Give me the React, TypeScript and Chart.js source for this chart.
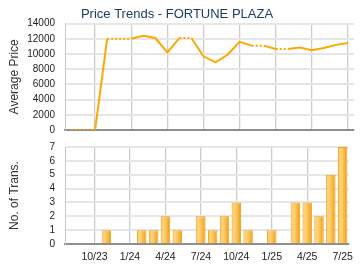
import React, { useEffect, useRef } from "react";
import { Chart, registerables } from "chart.js";

Chart.register(...registerables);

const months = [
  "8/23", "9/23", "10/23", "11/23", "12/23", "1/24", "2/24", "3/24", "4/24", "5/24", "6/24", "7/24",
  "8/24", "9/24", "10/24", "11/24", "12/24", "1/25", "2/25", "3/25", "4/25", "5/25", "6/25", "7/25",
];
const quarterLabels = ["10/23", "1/24", "4/24", "7/24", "10/24", "1/25", "4/25", "7/25"];
const avgPrice = [
  0, 0, 0, 12000, 12000, 12000, 12400, 12100, 10200, 12100, 12100, 9700,
  8900, 9900, 11600, 11100, 11100, 10650, 10650, 10850, 10500, 10800, 11200, 11450,
];
const transactions = [
  0, 0, 0, 1, 0, 0, 1, 1, 2, 1, 0, 2,
  1, 2, 3, 1, 0, 1, 0, 3, 3, 2, 5, 7,
];
const priceTicks = [0, 2000, 4000, 6000, 8000, 10000, 12000, 14000];
const transTicks = [0, 1, 2, 3, 4, 5, 6, 7];

const FONT = "'Liberation Sans', Arial, sans-serif";

const isQuarter = (i: number) => quarterLabels.includes(months[i]);

function xAxis(showLabels: boolean, fitHeight: number) {
  return {
    type: "category" as const,
    offset: true,
    grid: {
      offset: false,
      drawTicks: false,
      color: (c: any) => (isQuarter(c.index) ? "#cccccc" : "rgba(0,0,0,0)"),
      lineWidth: 1.3,
    },
    border: { display: true, color: "#8f8f8f", width: 2 },
    ticks: {
      display: showLabels,
      autoSkip: false,
      maxRotation: 0,
      padding: 7,
      color: "#222",
      font: { family: FONT, size: 10.5 },
      callback: (_v: any, i: number) => (isQuarter(i) ? months[i] : ""),
    },
    afterFit: (s: any) => {
      s.height = fitHeight;
    },
  };
}

function yAxis(title: string, max: number, ticks: number[]) {
  return {
    min: 0,
    max,
    grid: {
      drawTicks: true,
      tickLength: 10,
      tickColor: "rgba(0,0,0,0)",
      color: "#e6e6e6",
      lineWidth: 2,
    },
    border: { display: true, color: "#c8c8c8", width: 1 },
    afterBuildTicks: (s: any) => {
      s.ticks = ticks.map((v) => ({ value: v }));
    },
    ticks: {
      autoSkip: false,
      padding: 0,
      color: "#222",
      font: { family: FONT, size: 10, lineHeight: 1 },
      callback: (v: any) => String(v),
    },
    title: {
      display: true,
      text: title,
      color: "#333",
      font: { family: FONT, size: 12 },
      padding: { top: 7, bottom: 0 },
    },
    afterFit: (s: any) => {
      s.width = 65;
    },
  };
}

export default function App() {
  const topRef = useRef<HTMLCanvasElement>(null);
  const botRef = useRef<HTMLCanvasElement>(null);

  useEffect(() => {
    const top = new Chart(topRef.current!, {
      type: "line",
      data: {
        labels: months,
        datasets: [
          {
            data: avgPrice,
            borderColor: "#ffa800",
            borderWidth: 2,
            pointRadius: 0,
            tension: 0,
            segment: {
              borderDash: (c: any) => (transactions[c.p1DataIndex] === 0 ? [2, 2] : undefined),
            },
          },
        ],
      },
      options: {
        animation: false,
        responsive: false,
        layout: { padding: { left: 0, right: 6, top: 0, bottom: 0 } },
        plugins: {
          legend: { display: false },
          tooltip: { enabled: false },
          title: {
            display: true,
            text: "Price Trends - FORTUNE PLAZA",
            color: "#1d3d63",
            font: { family: FONT, size: 13, weight: "normal" },
            padding: { top: 7, bottom: 1 },
          },
        },
        scales: {
          x: xAxis(false, 5),
          y: yAxis("Average Price", 14000, priceTicks),
        },
      } as any,
    });

    const bot = new Chart(botRef.current!, {
      type: "bar",
      data: {
        labels: months,
        datasets: [
          {
            data: transactions,
            barPercentage: 0.8,
            categoryPercentage: 1,
            borderWidth: 1,
            borderColor: "#f1a51c",
            backgroundColor: (c: any) => {
              const chart = c.chart;
              const xs = chart.scales && chart.scales.x;
              if (!xs || c.dataIndex == null) return "#f7bb45";
              const cx = xs.getPixelForValue(c.dataIndex);
              if (!Number.isFinite(cx)) return "#f7bb45";
              const g = chart.ctx.createLinearGradient(cx - 5, 0, cx + 5, 0);
              g.addColorStop(0, "#fbc965");
              g.addColorStop(0.35, "#fdd27a");
              g.addColorStop(0.7, "#f5b53c");
              g.addColorStop(1, "#e99a08");
              return g;
            },
          },
        ],
      },
      options: {
        animation: false,
        responsive: false,
        layout: { padding: { left: 0, right: 6, top: 12, bottom: 0 } },
        plugins: { legend: { display: false }, tooltip: { enabled: false } },
        scales: {
          x: xAxis(true, 26),
          y: yAxis("No. of Trans.", 7, transTicks),
        },
      } as any,
    });

    return () => {
      top.destroy();
      bot.destroy();
    };
  }, []);

  return (
    <div style={{ position: "fixed", left: 0, top: 0, width: 360, height: 270, background: "#fff" }}>
      <canvas ref={topRef} width={360} height={135} style={{ position: "absolute", left: 0, top: 0, width: 360, height: 135 }} />
      <canvas ref={botRef} width={360} height={135} style={{ position: "absolute", left: 0, top: 135, width: 360, height: 135 }} />
    </div>
  );
}
